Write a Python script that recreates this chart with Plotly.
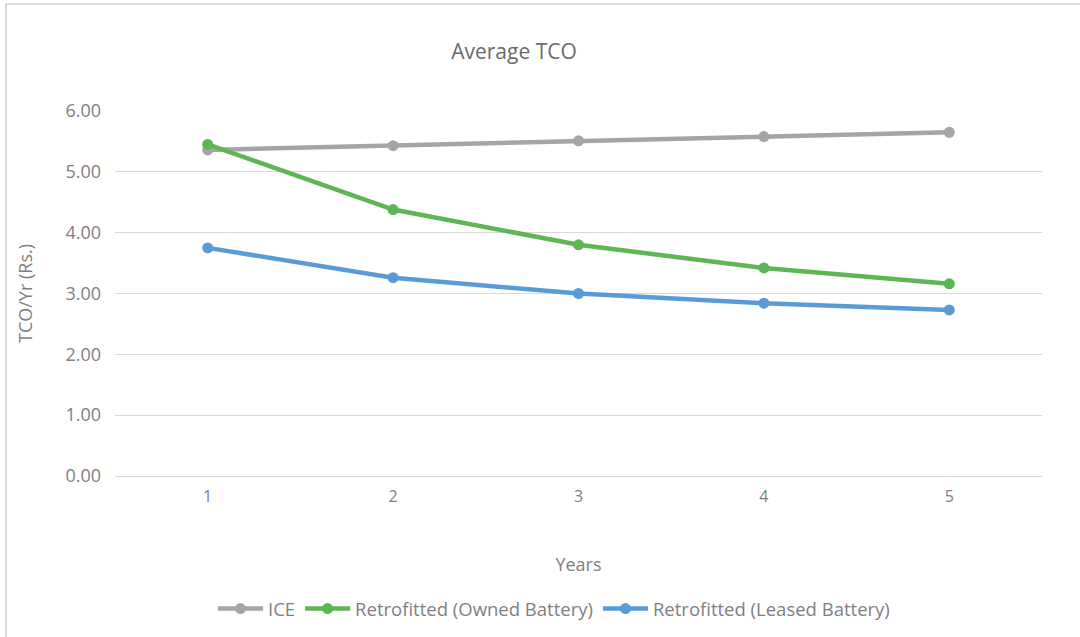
import plotly.graph_objects as go

# Average total cost of ownership per year, by vehicle option
years = [1, 2, 3, 4, 5]
ice = [5.36, 5.43, 5.51, 5.58, 5.65]
owned_battery = [5.45, 4.38, 3.80, 3.42, 3.16]
leased_battery = [3.75, 3.26, 3.00, 2.84, 2.73]

series = [
    ("ICE", ice, "#A5A5A5"),
    ("Retrofitted (Owned Battery)", owned_battery, "#5DB553"),
    ("Retrofitted (Leased Battery)", leased_battery, "#5B9BD5"),
]

W, H = 1080, 637
L, R, T, B = 115, 38, 111, 161
FONT = "'Open Sans', Lato, sans-serif"
TEXT = "#7F7F7F"

fig = go.Figure()
for name, vals, color in series:
    fig.add_trace(go.Scatter(
        x=[str(y) for y in years], y=vals, name=name, mode="lines+markers",
        line=dict(color=color, width=4.5),
        marker=dict(color=color, size=11),
    ))

def px_x(p):
    return (p - L) / (W - L - R)

def px_y(p):
    return (H - B - p) / (H - T - B)

# frame lines along the top and left edges
fig.add_shape(type="line", xref="paper", yref="paper",
              x0=px_x(6), x1=px_x(1090), y0=px_y(4), y1=px_y(4),
              line=dict(color="#BFBFBF", width=1.2))
fig.add_shape(type="line", xref="paper", yref="paper",
              x0=px_x(6), x1=px_x(6), y0=px_y(4), y1=px_y(650),
              line=dict(color="#BFBFBF", width=1.2))

fig.update_layout(
    width=W, height=H,
    margin=dict(l=L, r=R, t=T, b=B, autoexpand=False),
    paper_bgcolor="white", plot_bgcolor="white",
    font=dict(family=FONT, color=TEXT, size=15),
    title=dict(text="Average TCO", x=px_x(514), xref="paper", xanchor="center",
               y=1 - 52 / H, yanchor="middle",
               font=dict(size=21, color="#6A6A6A", family=FONT)),
    xaxis=dict(
        type="category", range=[-0.5, 4.5],
        showgrid=False, showline=False, zeroline=False,
        ticks="", ticklabelstandoff=9,
        tickfont=dict(size=16, color=TEXT),
        title=dict(text="Years", standoff=52, font=dict(size=18, color=TEXT)),
    ),
    yaxis=dict(
        range=[0, 6], dtick=1, tickformat=".2f",
        showgrid=True, gridcolor="#D9D9D9", gridwidth=1.3,
        zeroline=True, zerolinecolor="#D9D9D9", zerolinewidth=1.3,
        showline=False, ticks="", ticklabelstandoff=13,
        tickfont=dict(size=18, color=TEXT),
        title=dict(text="TCO/Yr (Rs.)", standoff=28, font=dict(size=18, color=TEXT)),
    ),
    legend=dict(orientation="h", x=px_x(554), xanchor="center",
                y=px_y(609), yanchor="middle",
                font=dict(size=18.5, color=TEXT), itemwidth=45,
                traceorder="normal"),
    showlegend=True,
)

fig.write_html("out.html")
